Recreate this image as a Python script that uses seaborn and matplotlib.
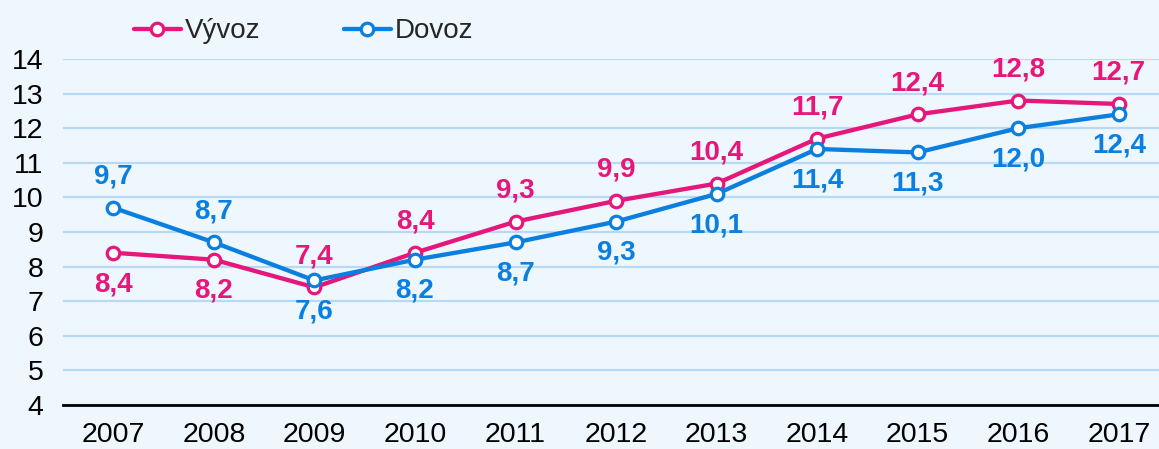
import pandas as pd
import matplotlib.pyplot as plt
import seaborn as sns

years = ['2007', '2008', '2009', '2010', '2011', '2012', '2013', '2014', '2015', '2016', '2017']
vyvoz = [8.4, 8.2, 7.4, 8.4, 9.3, 9.9, 10.4, 11.7, 12.4, 12.8, 12.7]
dovoz = [9.7, 8.7, 7.6, 8.2, 8.7, 9.3, 10.1, 11.4, 11.3, 12.0, 12.4]
# label above (+1) or below (-1) the point
vyvoz_side = [-1, -1, 1, 1, 1, 1, 1, 1, 1, 1, 1]
dovoz_side = [1, 1, -1, -1, -1, -1, -1, -1, -1, -1, -1]

pink = '#E6177A'
blue = '#0A7FDF'
bg = '#EEF6FE'

sns.set_style('white')
plt.rcParams['font.family'] = ['Liberation Sans', 'DejaVu Sans']

fig = plt.figure(figsize=(11.59, 4.49), dpi=100, facecolor=bg)
ax = fig.add_axes([0.0544, 0.098, 0.9456, 0.7706])
ax.set_facecolor(bg)

series = [('Vývoz', vyvoz, vyvoz_side, pink), ('Dovoz', dovoz, dovoz_side, blue)]
for name, vals, sides, col in series:
    df = pd.DataFrame({'Rok': years, 'Hodnota': vals})
    sns.lineplot(data=df, x='Rok', y='Hodnota', color=col, marker='o', markersize=9,
                 markerfacecolor='white', markeredgecolor=col, markeredgewidth=2.3,
                 linewidth=3.1, ax=ax, sort=False, label=name, legend=False)
    for i, (v, s) in enumerate(zip(vals, sides)):
        ax.annotate(f'{v:.1f}'.replace('.', ','), (i, v), xytext=(0, 22.5 * s),
                    textcoords='offset points', ha='center', va='center',
                    color=col, fontsize=20, fontweight='bold')

ax.set_ylim(4, 14)
ax.set_xlim(-0.5, 10.4)
ax.set_yticks(range(4, 15))
ax.yaxis.grid(True, color='#B5D9F7', linewidth=1.5)
ax.set_axisbelow(True)
for side in ['top', 'right', 'left']:
    ax.spines[side].set_visible(False)
ax.spines['bottom'].set_color('black')
ax.spines['bottom'].set_linewidth(2)
ax.tick_params(axis='both', length=0, labelsize=20.5, colors='black')
ax.tick_params(axis='x', pad=12.5)
ax.tick_params(axis='y', pad=14)
ax.set_xlabel('')
ax.set_ylabel('')

handles = [plt.Line2D([], [], color=c, linewidth=3.1, marker='o', markersize=9,
                      markerfacecolor='white', markeredgecolor=c, markeredgewidth=2.3)
           for c in (pink, blue)]
fig.legend(handles, ['Vývoz', 'Dovoz'], loc='center', bbox_to_anchor=(0.262, 0.93),
           ncol=2, frameon=False, fontsize=20, handlelength=1.7, handletextpad=0.15,
           columnspacing=3.0)

fig.savefig('out.png', dpi=100, facecolor=bg)
